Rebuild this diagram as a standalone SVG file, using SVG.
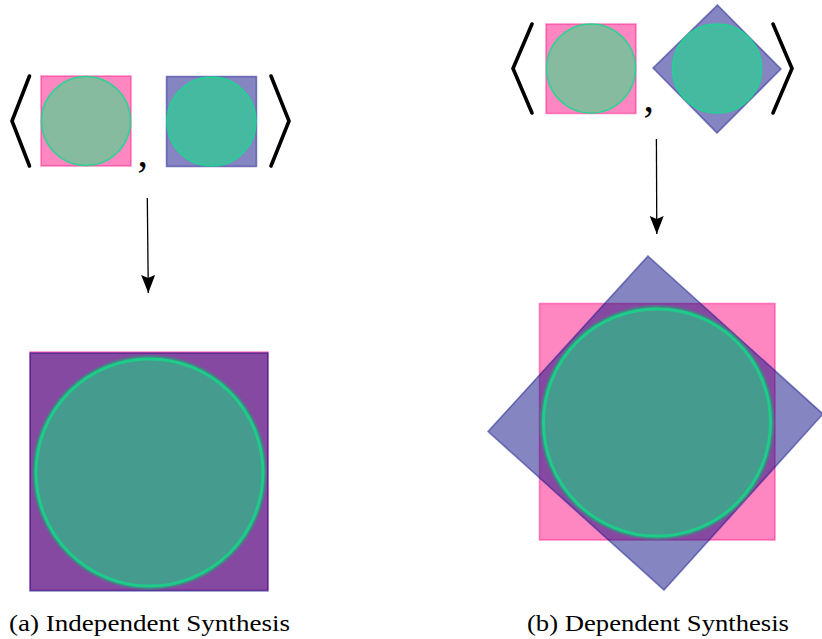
<svg xmlns="http://www.w3.org/2000/svg" width="822" height="639" viewBox="0 0 822 639">
  <style>
    .pink { fill: #ff1084; fill-opacity: 0.5; stroke: #ff1084; stroke-opacity: 0.45; stroke-width: 1.6; }
    .blue { fill: #0c0c84; fill-opacity: 0.5; stroke: #0c0c84; stroke-opacity: 0.45; stroke-width: 1.6; }
    .disc { fill: #03f47b; fill-opacity: 0.48; stroke: #1ad890; stroke-opacity: 0.85; stroke-width: 1.6; }
    .disc-big { fill: #03f47b; fill-opacity: 0.48; stroke: #3a8a80; stroke-opacity: 0.6; stroke-width: 3; }
    .ring { fill: none; stroke: #1ccc88; stroke-width: 3; }
    .bracket { fill: none; stroke: #000; stroke-width: 3.6; stroke-linecap: round; stroke-linejoin: miter; }
    .comma { font-family: "Liberation Serif", "Times New Roman", serif; font-size: 42px; fill: #000; }
    .edge { stroke: #000; stroke-width: 1.3; fill: none; }
    .caption { font-family: "Liberation Serif", "Times New Roman", serif; font-size: 24px; fill: #000; }
  </style>
  <defs>
    <marker id="head" markerUnits="userSpaceOnUse" markerWidth="20" markerHeight="16" refX="18" refY="7" orient="auto">
      <path d="M0,0 L18,7 L0,14 L3,7 Z" fill="#000"/>
    </marker>
  </defs>

  <!-- (a) input tuple -->
  <g id="tuple-a">
    <polyline class="bracket" points="29.5,76 12,121 29.5,166"/>
    <rect class="pink" x="41" y="76" width="90" height="90"/>
    <circle class="disc" cx="86" cy="121" r="44.5"/>
    <text class="comma" x="137.5" y="166">,</text>
    <rect class="blue" x="166.5" y="76.5" width="90" height="90"/>
    <circle class="disc" cx="211.5" cy="121.5" r="44.5"/>
    <polyline class="bracket" points="271,76 289,121 271,166"/>
  </g>

  <!-- (a) synthesized result -->
  <g id="result-a">
    <rect class="pink" x="30" y="352" width="238" height="238"/>
    <rect class="blue" x="30" y="353" width="238" height="238"/>
    <circle class="disc-big" cx="149.5" cy="472.5" r="116"/>
    <circle class="ring" cx="149.5" cy="472.5" r="113.5"/>
  </g>

  <!-- (b) input tuple -->
  <g id="tuple-b">
    <polyline class="bracket" points="532,24 513,68.5 532,113"/>
    <rect class="pink" x="546" y="24" width="90" height="89.5"/>
    <circle class="disc" cx="591" cy="68.5" r="44.5"/>
    <text class="comma" x="643.5" y="111">,</text>
    <polygon class="blue" points="717.5,5 781,69 717,133 653,68"/>
    <circle class="disc" cx="717" cy="68.5" r="44.5"/>
    <polyline class="bracket" points="773,24 792,68.5 773,113"/>
  </g>

  <!-- (b) synthesized result -->
  <g id="result-b">
    <rect class="pink" x="539.5" y="303.5" width="235.5" height="236.5"/>
    <polygon class="blue" points="648,256 823,414 664,590 488,431.5"/>
    <circle class="disc-big" cx="657" cy="422.5" r="116"/>
    <circle class="ring" cx="657" cy="422.5" r="113.5"/>
  </g>

  <!-- synthesis arrows -->
  <g id="connectors">
    <line class="edge" x1="147.3" y1="198" x2="148.3" y2="293" marker-end="url(#head)"/>
    <line class="edge" x1="656.4" y1="139" x2="656.8" y2="234" marker-end="url(#head)"/>
  </g>

  <!-- captions -->
  <g id="captions">
    <text class="caption" x="9" y="631" textLength="281" lengthAdjust="spacingAndGlyphs">(a) Independent Synthesis</text>
    <text class="caption" x="527" y="631" textLength="262" lengthAdjust="spacingAndGlyphs">(b) Dependent Synthesis</text>
  </g>
</svg>
